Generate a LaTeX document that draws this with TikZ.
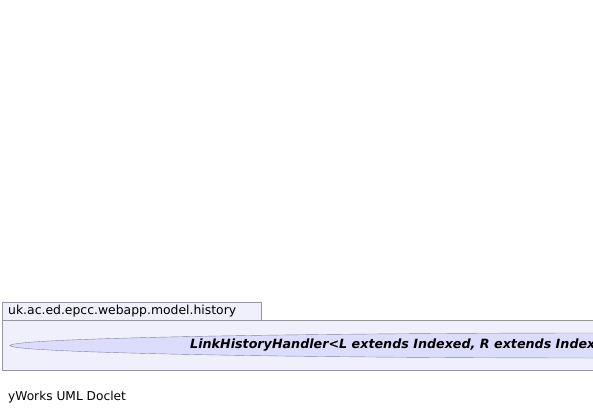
\documentclass[tikz,border=0pt]{standalone}
\usepackage{fontspec}
\setmainfont{DejaVu Sans}
\definecolor{pkgfill}{RGB}{240,240,252}
\definecolor{pkgline}{RGB}{150,150,160}
\definecolor{ovalfill}{RGB}{220,220,252}
\definecolor{ovalline}{RGB}{130,130,160}
\begin{document}
\begin{tikzpicture}[x=1pt,y=-1pt]
            \useasboundingbox (0,0) rectangle (593,415);
            \clip (0,0) rectangle (593,415);
            \draw[pkgline,fill=pkgfill] (2,302) rectangle (261,320);
            \node[anchor=west,inner sep=0pt,font=\fontsize{12.4}{14}\selectfont] (pkg) at (8,311) {uk.ac.ed.epcc.webapp.model.history};
            \draw[pkgline,fill=pkgfill] (2,320) rectangle (610,370);
            \draw[ovalline,fill=ovalfill] (605,345.5) ellipse (595 and 12.5);
            \node[anchor=west,inner sep=0pt,font=\fontsize{12.7}{14}\selectfont\bfseries\itshape] (cls) at (190,345) {LinkHistoryHandler<L extends Indexed, R extends Indexed>};
            \node[anchor=west,inner sep=0pt,font=\fontsize{12.2}{14}\selectfont] (doclet) at (8,397) {yWorks UML Doclet};
        \end{tikzpicture}
\end{document}
